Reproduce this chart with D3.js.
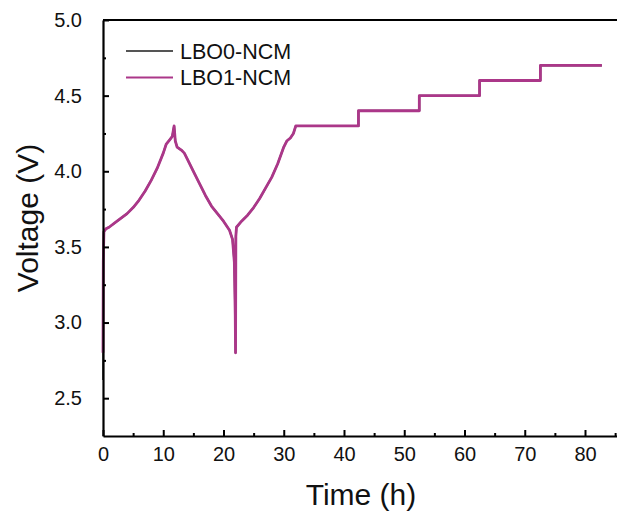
<!DOCTYPE html>
<html>
<head>
<meta charset="utf-8">
<script src="https://cdn.jsdelivr.net/npm/d3@7"></script>
<style>
  body { margin: 0; background: #fff; }
  svg text { font-family: "Liberation Sans", Arial, sans-serif; fill: #111; }
</style>
</head>
<body>
<div id="viz"></div>
<script>
// time (h) shared by both curves
var timeH = [0, 0.05, 0.15, 0.5, 1, 2, 3, 4, 5, 6, 7, 8, 9, 10, 10.5, 11.1, 11.5, 11.8, 12.0, 12.3, 13, 13.5, 14, 15, 16, 17, 18, 19, 20, 21, 21.5, 21.8, 21.95, 22.0, 22.05, 22.15, 23, 24, 25, 26, 27, 28, 29, 30, 30.5, 31.1, 31.6, 32.0, 42.4, 42.4, 52.5, 52.5, 62.5, 62.5, 72.6, 72.6, 82.8];
// voltage (V)
var voltLBO0 = [2.62, 3.40, 3.60, 3.62, 3.63, 3.66, 3.69, 3.72, 3.76, 3.81, 3.87, 3.94, 4.02, 4.12, 4.18, 4.21, 4.23, 4.30, 4.20, 4.16, 4.14, 4.12, 4.08, 4.00, 3.92, 3.84, 3.77, 3.72, 3.67, 3.61, 3.55, 3.40, 3.05, 2.80, 3.57, 3.63, 3.67, 3.71, 3.76, 3.82, 3.89, 3.96, 4.05, 4.16, 4.20, 4.22, 4.25, 4.30, 4.30, 4.40, 4.40, 4.50, 4.50, 4.60, 4.60, 4.70, 4.70];
var voltLBO1 = [2.80, 3.40, 3.60, 3.62, 3.63, 3.66, 3.69, 3.72, 3.76, 3.81, 3.87, 3.94, 4.02, 4.12, 4.18, 4.21, 4.23, 4.30, 4.20, 4.16, 4.14, 4.12, 4.08, 4.00, 3.92, 3.84, 3.77, 3.72, 3.67, 3.61, 3.55, 3.40, 3.05, 2.80, 3.57, 3.63, 3.67, 3.71, 3.76, 3.82, 3.89, 3.96, 4.05, 4.16, 4.20, 4.22, 4.25, 4.30, 4.30, 4.40, 4.40, 4.50, 4.50, 4.60, 4.60, 4.70, 4.70];
var seriesNames = ["LBO0-NCM", "LBO1-NCM"];
var seriesColors = ["#555555", "#ab3789"];
var xTicks = [0, 10, 20, 30, 40, 50, 60, 70, 80];
var yTicks = [2.5, 3.0, 3.5, 4.0, 4.5, 5.0];

var W = 617, H = 516;
var margin = { top: 20, left: 103, bottom: 80 };

var svg = d3.select("#viz").append("svg")
  .attr("width", W)
  .attr("height", H);

var xScale = d3.scaleLinear().domain([0, 86]).range([margin.left, margin.left + 86 * 6.025]);
var yScale = d3.scaleLinear().domain([2.25, 5.0]).range([H - margin.bottom, margin.top]);

// curves
var line = d3.line()
  .x(function (d) { return xScale(d[0]); })
  .y(function (d) { return yScale(d[1]); });

[voltLBO0, voltLBO1].forEach(function (v, i) {
  svg.append("path")
    .datum(timeH.map(function (t, j) { return [t, v[j]]; }))
    .attr("d", line)
    .attr("fill", "none")
    .attr("stroke", seriesColors[i])
    .attr("stroke-width", i == 0 ? 2 : 2.8)
    .attr("stroke-linejoin", "round");
});

// minor ticks
var xMinor = d3.range(5, 86, 10);
var yMinor = d3.range(2.75, 5, 0.5);

svg.append("g")
  .attr("transform", "translate(0," + yScale(2.25) + ")")
  .call(d3.axisBottom(xScale).tickValues(xMinor).tickSize(-3).tickFormat(""))
  .call(function (g) { g.select(".domain").remove(); })
  .selectAll("line").attr("stroke-width", 2);

svg.append("g")
  .attr("transform", "translate(" + xScale(0) + ",0)")
  .call(d3.axisLeft(yScale).tickValues(yMinor).tickSize(-3).tickFormat(""))
  .call(function (g) { g.select(".domain").remove(); })
  .selectAll("line").attr("stroke-width", 2);

// major axes
var xAxis = svg.append("g")
  .attr("transform", "translate(0," + yScale(2.25) + ")")
  .call(d3.axisBottom(xScale).tickValues(xTicks).tickSize(-6).tickSizeOuter(0).tickPadding(11).tickFormat(d3.format("d")));
xAxis.selectAll("text").style("font-size", "20px");

var yAxis = svg.append("g")
  .attr("transform", "translate(" + xScale(0) + ",0)")
  .call(d3.axisLeft(yScale).tickValues(yTicks).tickSize(-6).tickSizeOuter(0).tickPadding(21).tickFormat(d3.format(".1f")));
yAxis.selectAll("text").style("font-size", "20px");

svg.selectAll(".domain").attr("stroke-width", 2.2).attr("stroke", "#000");
svg.selectAll(".tick line").attr("stroke-width", 2).attr("stroke", "#000");

// top frame (right side runs off the picture)
svg.append("line")
  .attr("x1", xScale(0)).attr("x2", xScale(86))
  .attr("y1", yScale(5)).attr("y2", yScale(5))
  .attr("stroke", "#000").attr("stroke-width", 2.2);

// axis titles
svg.append("text")
  .attr("x", 361).attr("y", 505)
  .attr("text-anchor", "middle")
  .style("font-size", "30px")
  .text("Time (h)");

svg.append("text")
  .attr("transform", "translate(38,218) rotate(-90)")
  .attr("text-anchor", "middle")
  .style("font-size", "30px")
  .text("Voltage (V)");

// legend
var legend = svg.append("g");
seriesNames.forEach(function (name, i) {
  var y = 51 + i * 26.5;
  legend.append("line")
    .attr("x1", 126).attr("x2", 173)
    .attr("y1", y).attr("y2", y)
    .attr("stroke", seriesColors[i])
    .attr("stroke-width", 2);
  legend.append("text")
    .attr("x", 180).attr("y", y)
    .attr("dy", "0.36em")
    .style("font-size", "21.5px")
    .text(name);
});
</script>
</body>
</html>
